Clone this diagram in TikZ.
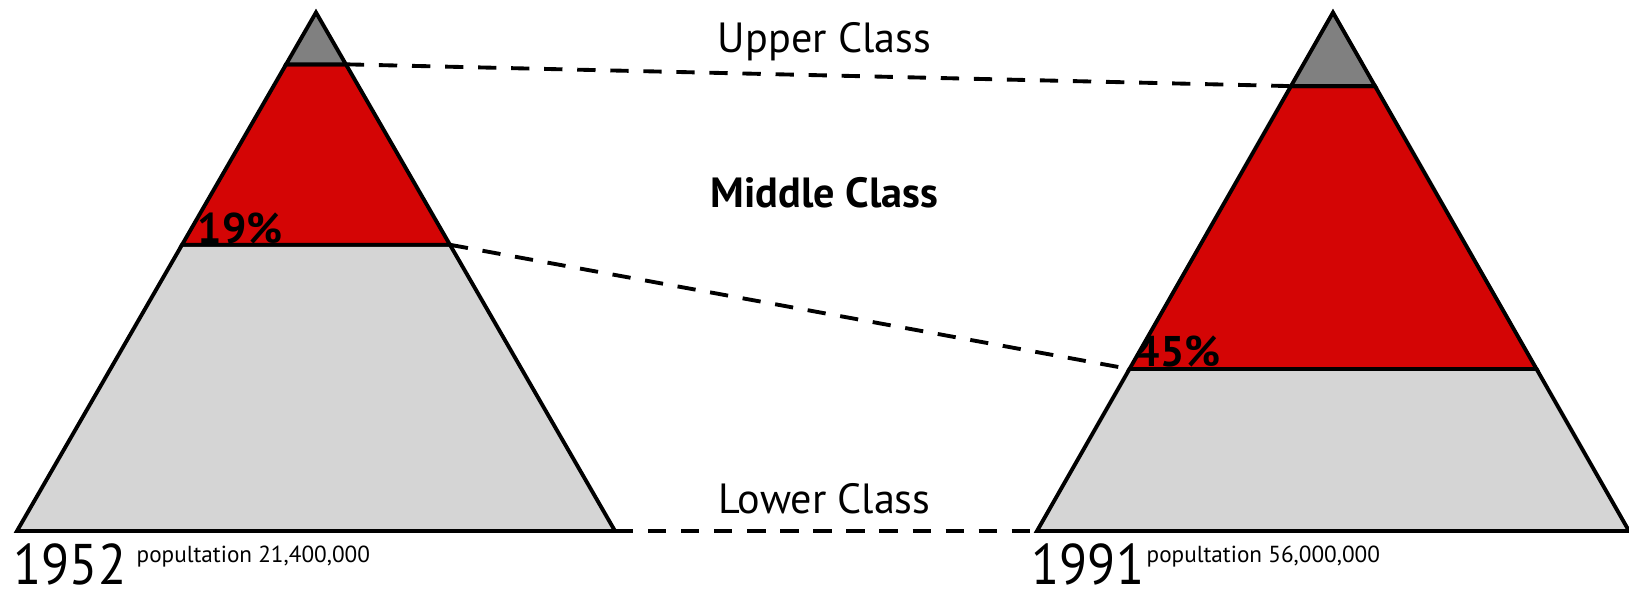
\documentclass[tikz,border=0pt]{standalone}
\usepackage{fontspec}
\setmainfont{PT Sans}
\usetikzlibrary{calc, positioning}
\definecolor{midred}{RGB}{212, 5, 5}
\definecolor{topgray}{RGB}{128, 128, 128}
\definecolor{lowgray}{RGB}{213, 213, 213}

\begin{document}
\begin{tikzpicture}[
  x=0.01cm, y=-0.01cm,
  layer/.style={draw=black, line width=1.1pt, line join=miter},
  link/.style={draw=black, line width=1.1pt, dash pattern=on 5.2pt off 4.2pt},
  classlbl/.style={anchor=base, inner sep=0pt, font=\fontsize{12}{14}\selectfont},
  pctlbl/.style={anchor=base west, inner sep=0pt, font=\fontsize{12.2}{14}\selectfont\bfseries},
  yearlbl/.style={anchor=base west, inner sep=0pt, font=\fontsize{16.3}{19}\selectfont},
  poplbl/.style={anchor=base west, inner sep=0pt, font=\fontsize{6.6}{8}\selectfont}
]
  \useasboundingbox (0,0) rectangle (1629,595);

  % 1952 pyramid
  \coordinate (apexA) at (316,12.5);
  \coordinate (leftA) at (17,531);
  \coordinate (rightA) at (615,531);
  \coordinate (upLA) at ($(apexA)!0.1!(leftA)$);
  \coordinate (upRA) at ($(apexA)!0.1!(rightA)$);
  \coordinate (midLA) at ($(apexA)!0.448!(leftA)$);
  \coordinate (midRA) at ($(apexA)!0.448!(rightA)$);
  \filldraw[layer, fill=lowgray] (midLA) -- (midRA) -- (rightA) -- (leftA) -- cycle;
  \filldraw[layer, fill=midred] (upLA) -- (upRA) -- (midRA) -- (midLA) -- cycle;
  \filldraw[layer, fill=topgray] (apexA) -- (upRA) -- (upLA) -- cycle;

  % 1991 pyramid
  \coordinate (apexB) at (1333,12.5);
  \coordinate (leftB) at (1037,531);
  \coordinate (rightB) at (1629,531);
  \coordinate (upLB) at ($(apexB)!0.142!(leftB)$);
  \coordinate (upRB) at ($(apexB)!0.142!(rightB)$);
  \coordinate (midLB) at ($(apexB)!0.6876!(leftB)$);
  \coordinate (midRB) at ($(apexB)!0.6876!(rightB)$);
  \filldraw[layer, fill=lowgray] (midLB) -- (midRB) -- (rightB) -- (leftB) -- cycle;
  \filldraw[layer, fill=midred] (upLB) -- (upRB) -- (midRB) -- (midLB) -- cycle;
  \filldraw[layer, fill=topgray] (apexB) -- (upRB) -- (upLB) -- cycle;

  % links between the two years
  \draw[link] (upRA) -- (upLB);
  \draw[link] (midRA) -- (midLB);
  \draw[link] (rightA) -- (leftB);

  \node[classlbl] (upper) at (824.5,53) {Upper Class};
  \node[classlbl, font=\fontsize{12}{14}\selectfont\bfseries] (middle) at (824.5,208) {Middle Class};
  \node[classlbl] (lower) at (824.5,514) {Lower Class};

  \node[pctlbl] (pctA) at (197,244) {19\%};
  \node[pctlbl] (pctB) at (1135,367) {45\%};

  \node[yearlbl] (yearA) at (13,585) {\scalebox{0.9}[1]{1952}};
  \node[poplbl] (popA) at (136,563) {popultation 21,400,000};
  \node[yearlbl] (yearB) at (1031,585) {\scalebox{0.9}[1]{1991}};
  \node[poplbl] (popB) at (1146,563) {popultation 56,000,000};
\end{tikzpicture}
\end{document}
